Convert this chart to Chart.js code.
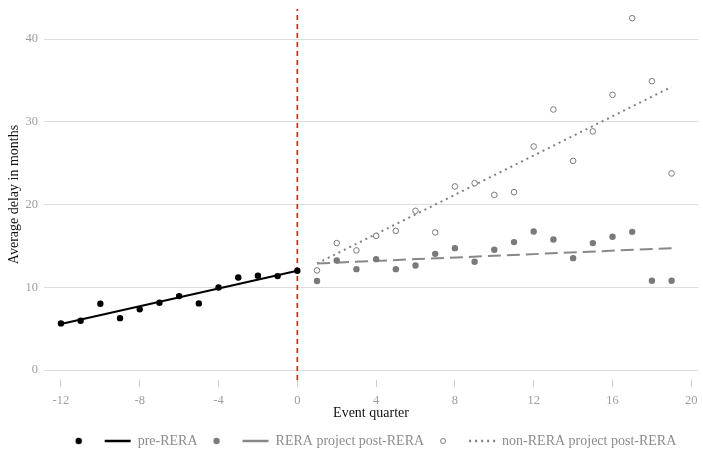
<!DOCTYPE html>
<html><head><meta charset="utf-8">
<script src="https://cdn.jsdelivr.net/npm/chart.js@4.4.1/dist/chart.umd.min.js"></script>
<style>html,body{margin:0;padding:0;background:#fff}#wrap{width:703px;height:451px}</style>
</head><body><div id="wrap"><canvas id="c" width="703" height="451"></canvas></div>
<script>
// ---- data ----
const preX = [-12,-11,-10,-9,-8,-7,-6,-5,-4,-3,-2,-1,0];
const preY = [5.64,5.96,8.01,6.28,7.34,8.13,8.94,8.06,9.99,11.2,11.4,11.36,12.0];
const postX = [1,2,3,4,5,6,7,8,9,10,11,12,13,14,15,16,17,18,19];
const reraY = [10.76,13.26,12.2,13.41,12.2,12.65,14.05,14.74,13.09,14.54,15.47,16.76,15.79,13.53,15.35,16.11,16.71,10.79,10.79];
const nonReraY = [12.05,15.35,14.47,16.23,16.83,19.25,16.64,22.2,22.6,21.18,21.51,27.03,31.5,25.29,28.85,33.27,42.54,34.92,23.77];
const preFitX = [-12, 0];
const preFitY = [5.56, 12.0];
const reraFitX = [1, 19];
const reraFitY = [12.89, 14.74];
const nonFitX = [1, 19];
const nonFitY = [12.89, 34.24];
const xTicks = [-12,-8,-4,0,4,8,12,16,20];
const yTicks = [0,10,20,30,40];
const xRange = [-12.86, 20.34];
const yRange = [-1.2, 43.65];
const eventQuarter = 0;
const legendNames = ['pre-RERA','RERA project post-RERA','non-RERA project post-RERA'];

const pts = (xs, ys) => xs.map((x, i) => ({x, y: ys[i]}));
const SERIF = '"Liberation Serif", "DejaVu Serif", serif';

function dotCanvas(fill, stroke, r) {
  const c = document.createElement('canvas');
  c.width = 10; c.height = 10;
  const g = c.getContext('2d');
  g.beginPath(); g.arc(5, 5, r, 0, Math.PI * 2);
  if (fill) { g.fillStyle = fill; g.fill(); }
  if (stroke) { g.strokeStyle = stroke; g.lineWidth = 1; g.stroke(); }
  return c;
}

const datasets = [
  {label: 'preDots', data: pts(preX, preY), pointRadius: 3.2, pointBackgroundColor: '#000', pointBorderWidth: 0, showLine: false},
  {label: 'reraDots', data: pts(postX, reraY), pointRadius: 3.2, pointBackgroundColor: '#7a7a7a', pointBorderWidth: 0, showLine: false},
  {label: 'nonDots', data: pts(postX, nonReraY), pointRadius: 2.8, pointBackgroundColor: '#fff', pointBorderColor: '#7a7a7a', pointBorderWidth: 1, showLine: false},
  {label: 'preFit', data: pts(preFitX, preFitY), showLine: true, pointRadius: 0, borderColor: '#000', borderWidth: 2},
  {label: 'reraFit', data: pts(reraFitX, reraFitY), showLine: true, pointRadius: 0, borderColor: '#888', borderWidth: 2, borderDash: [13, 6]},
  {label: 'nonFit', data: pts(nonFitX, nonFitY), showLine: true, pointRadius: 0, borderColor: '#808080', borderWidth: 2, borderDash: [2, 4]},
  {label: 'event', data: pts([eventQuarter, eventQuarter], yRange), showLine: true, pointRadius: 0, borderColor: '#ff1010', borderWidth: 1.6, borderDash: [5, 4]}
];

const legendColor = '#8c8c8c';
function makeLabels() {
  return [
    {text: '', pointStyle: dotCanvas('#000', null, 3.2), fillStyle: '#000', strokeStyle: '#000', lineWidth: 0, fontColor: legendColor, hidden: false, datasetIndex: 0},
    {text: legendNames[0], pointStyle: 'line', fillStyle: '#000', strokeStyle: '#000', lineWidth: 2.5, lineDash: [], fontColor: legendColor, hidden: false, datasetIndex: 3},
    {text: '', pointStyle: dotCanvas('#7a7a7a', null, 3.2), fillStyle: '#7a7a7a', strokeStyle: '#7a7a7a', lineWidth: 0, fontColor: legendColor, hidden: false, datasetIndex: 1},
    {text: legendNames[1], pointStyle: 'line', fillStyle: '#888', strokeStyle: '#888', lineWidth: 2.5, lineDash: [], fontColor: legendColor, hidden: false, datasetIndex: 4},
    {text: '', pointStyle: dotCanvas('#fff', '#7a7a7a', 2.5), fillStyle: '#fff', strokeStyle: '#7a7a7a', lineWidth: 0, fontColor: legendColor, hidden: false, datasetIndex: 2},
    {text: legendNames[2], pointStyle: 'line', fillStyle: '#808080', strokeStyle: '#808080', lineWidth: 2.5, lineDash: [2, 4], fontColor: legendColor, hidden: false, datasetIndex: 5}
  ];
}

new Chart(document.getElementById('c'), {
  type: 'scatter',
  data: {datasets},
  options: {
    responsive: false,
    animation: false,
    layout: {padding: {top: 9, right: 3, left: 0, bottom: -7}},
    plugins: {
      tooltip: {enabled: false},
      legend: {
        position: 'bottom',
        fullSize: false,
        labels: {
          usePointStyle: true,
          pointStyleWidth: 26,
          padding: 6,
          color: legendColor,
          font: {family: SERIF, size: 14},
          generateLabels: makeLabels
        }
      }
    },
    scales: {
      x: {
        type: 'linear',
        min: xRange[0], max: xRange[1],
        afterBuildTicks: s => { s.ticks = xTicks.map(v => ({value: v})); },
        afterFit: s => { s.height = 48; s.paddingLeft = 0; s.paddingRight = 0; },
        grid: {drawOnChartArea: false, drawTicks: true, tickLength: 7, tickColor: '#cccccc', tickWidth: 1},
        border: {display: false},
        ticks: {color: '#9e9e9e', font: {family: SERIF, size: 12.5}, padding: 6, maxRotation: 0},
        title: {display: true, text: 'Event quarter', color: '#111', font: {family: SERIF, size: 14}, padding: {top: 0, bottom: 6.6}}
      },
      y: {
        type: 'linear',
        min: yRange[0], max: yRange[1],
        afterBuildTicks: s => { s.ticks = yTicks.map(v => ({value: v})); },
        afterFit: s => { s.width = 44; s.paddingTop = 0; s.paddingBottom = 0; },
        grid: {color: '#dddddd', lineWidth: 1, drawTicks: false},
        border: {display: false},
        ticks: {color: '#9e9e9e', font: {family: SERIF, size: 12.5}, padding: 6},
        title: {display: true, text: 'Average delay in months', color: '#111', font: {family: SERIF, size: 14}, padding: {top: 6, bottom: 0}}
      }
    }
  }
});
</script>
</body></html>
